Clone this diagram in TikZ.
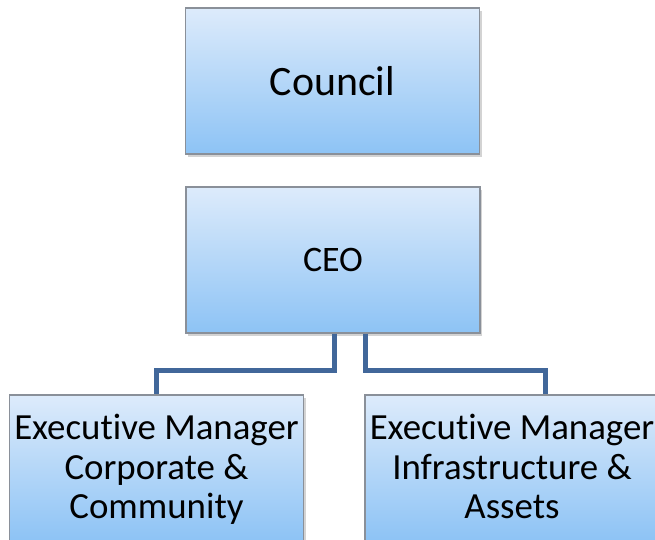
\documentclass[tikz,border=0pt]{standalone}
\usepackage{xcolor}
\usepackage{fontspec}
\setmainfont{Carlito}[RawFeature=-liga]
\usetikzlibrary{shadows, calc}

\definecolor{boxtop}{HTML}{DDEBFB}
\definecolor{boxbot}{HTML}{8DC3F5}
\definecolor{boxline}{HTML}{8A9099}
\definecolor{linkblue}{HTML}{41679A}

\begin{document}
\begin{tikzpicture}[x=1bp, y=1bp,
    orgbox/.style={draw=boxline, line width=1.2bp, top color=boxtop, bottom color=boxbot,
        minimum width=294bp, minimum height=146bp, inner sep=0pt, align=center,
        drop shadow={shadow xshift=2bp, shadow yshift=-3bp, opacity=.35}},
    link/.style={draw=linkblue, line width=5bp}]
    \useasboundingbox (0,0) rectangle (655,-540);
    % Boxes
    \node[orgbox, font=\fontsize{42}{50}\selectfont] (council) at (332.5,-81) {Council};
    \node[orgbox, font=\fontsize{36}{40}\selectfont] (ceo) at (333,-260) {CEO};
    \node[orgbox, font=\fontsize{37}{39.5}\selectfont] (corp) at (156.5,-468) {\rule{0pt}{34bp}Executive Manager\\Corporate \&\\Community\strut};
    \node[orgbox, font=\fontsize{37}{39.5}\selectfont] (infra) at (512,-468) {\rule{0pt}{34bp}Executive Manager\\Infrastructure \&\\Assets\strut};
    % Lines
    \coordinate (bus) at (0,-370);
    \draw[link] ([xshift=1.5bp]ceo.south) -- ([xshift=1.5bp]ceo.south |- bus) -| (corp.north);
    \draw[link] ([xshift=32.5bp]ceo.south) -- ([xshift=32.5bp]ceo.south |- bus) -| ([xshift=33bp]infra.north);
\end{tikzpicture}
\end{document}
